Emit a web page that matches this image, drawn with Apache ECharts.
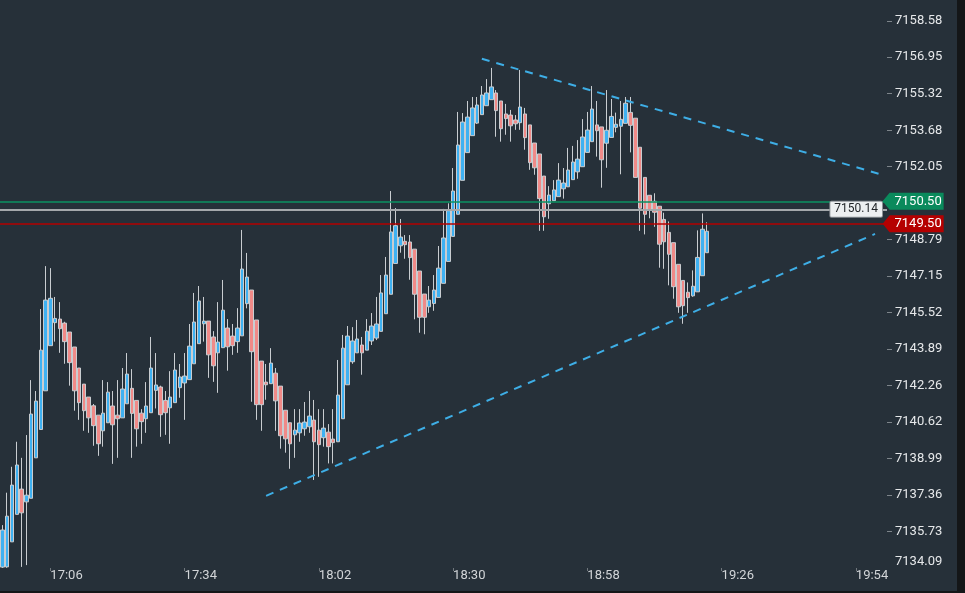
<!DOCTYPE html>
<html><head><meta charset="utf-8">
<script src="https://cdn.jsdelivr.net/npm/echarts@6/dist/echarts.min.js"></script>
<style>
html,body{margin:0;padding:0;background:#141618;width:965px;height:593px;overflow:hidden}
#c{width:957px;height:591px;background:#263039}
</style></head>
<body><div id="c"></div>
<script>
// minute categories 16:56 .. 20:00
const startTime = '16:56';
const categoryCount = 185;
const times = [];
(function(){ const p = startTime.split(':').map(Number); let m = p[0]*60+p[1];
  for (let i=0;i<categoryCount;i++){ const t=m+i; times.push(String(Math.floor(t/60)).padStart(2,'0')+':'+String(t%60).padStart(2,'0')); } })();

const xLabelFirst = '17:06';
const xLabelStep = 28;

const yLabels = [7158.58,7156.95,7155.32,7153.68,7152.05,7148.79,7147.15,7145.52,7143.89,7142.26,7140.62,7138.99,7137.36,7135.73,7134.09];
const yTicks  = [7158.58,7156.95,7155.32,7153.68,7152.05,7148.79,7147.15,7145.52,7143.89,7142.26,7140.62,7138.99,7137.36,7135.73];

const open = [7134.13,7134.14,7135.26,7136.49,7137.62,7137.05,7137.21,7139.02,7140.29,7142.02,
7144.04,7145.07,7145.23,7145.05,7144.65,7143.98,7143.04,7142.32,7141.74,7141.35,
7140.93,7140.23,7140.59,7141.34,7140.93,7140.81,7141.44,7142.13,7141.59,7141.02,
7140.77,7141.04,7142.04,7142.19,7141.59,7141.26,7141.49,7142.16,7142.37,7142.52,
7143.23,7144.13,7145.02,7145.14,7144.43,7143.72,7143.95,7144.83,7144.47,7144.22,
7144.48,7145.92,7146.53,7145.19,7143.35,7142.41,7142.34,7142.81,7142.23,7141.15,
7140.59,7140.05,7140.14,7140.32,7140.41,7140.71,7140.26,7139.92,7140.17,7139.86,
7139.74,7140.77,7142.29,7143.32,7143.72,7144.07,7143.84,7144.25,7144.38,7144.68,
7145.47,7146.34,7147.72,7148.51,7148.71,7148.68,7148.36,7147.38,7146.35,7145.78,
7145.93,7146.20,7146.83,7147.81,7148.93,7149.92,7151.44,7152.68,7153.44,7154.00,
7154.38,7154.78,7155.05,7155.35,7154.99,7154.41,7154.36,7154.14,7154.02,7154.41,
7153.92,7153.11,7152.62,7151.63,7150.39,7150.53,7150.71,7151.06,7151.15,7151.47,
7151.82,7152.05,7152.69,7153.17,7153.92,7153.83,7153.10,7153.36,7153.81,7153.86,
7153.99,7154.48,7154.22,7152.92,7151.57,7150.77,7150.50,7150.28,7149.69,7149.11,
7148.65,7147.68,7146.96,7146.43,7146.27,7146.45,7147.17,7148.20];

const close = [7135.79,7136.41,7137.80,7138.70,7136.56,7137.35,7140.98,7141.56,7143.84,7146.08,
7146.16,7145.26,7144.80,7144.22,7143.28,7142.02,7141.49,7141.13,7140.81,7140.46,
7139.65,7141.02,7141.96,7140.50,7140.77,7142.10,7142.77,7141.01,7140.32,7140.64,
7141.34,7143.04,7142.28,7140.95,7141.04,7141.74,7142.95,7142.64,7142.68,7144.02,
7145.10,7146.04,7145.14,7143.63,7143.14,7144.20,7145.63,7143.99,7144.04,7144.83,
7147.47,7147.11,7143.77,7141.40,7141.40,7142.29,7143.26,7141.57,7140.01,7139.87,
7139.65,7140.26,7140.58,7140.62,7140.89,7139.74,7139.61,7140.35,7139.52,7139.70,
7141.83,7143.93,7144.47,7144.25,7144.34,7143.72,7144.69,7144.92,7145.01,7146.40,
7147.20,7149.13,7149.41,7148.90,7148.56,7147.98,7146.34,7145.31,7145.31,7146.08,
7146.53,7147.51,7148.86,7150.08,7150.96,7153.02,7154.05,7154.27,7154.68,7154.81,
7155.26,7155.35,7155.62,7154.56,7153.75,7154.20,7153.88,7153.97,7154.72,7153.35,
7152.23,7152.00,7150.62,7149.81,7150.78,7151.01,7151.45,7151.32,7151.90,7152.26,
7152.39,7153.38,7153.69,7154.63,7153.66,7152.36,7153.68,7154.30,7153.95,7154.17,
7154.89,7153.90,7151.57,7150.19,7149.92,7150.12,7150.01,7148.58,7148.69,7148.13,
7146.68,7145.78,7145.83,7146.19,7146.70,7147.99,7149.25,7149.16];

const low = [7134.09,7134.10,7135.26,7136.49,7134.14,7134.22,7137.21,7139.02,7140.29,7142.02,
7144.04,7144.22,7143.72,7143.23,7142.25,7141.13,7140.72,7140.23,7140.14,7139.56,
7139.11,7139.52,7140.59,7138.75,7139.02,7140.81,7141.44,7139.02,7139.52,7139.65,
7140.14,7141.04,7141.23,7139.96,7140.05,7139.65,7141.49,7141.71,7140.72,7142.52,
7143.23,7144.13,7144.22,7142.60,7142.42,7141.93,7143.95,7142.92,7143.63,7143.72,
7144.48,7145.71,7141.53,7140.72,7140.23,7141.62,7142.34,7140.23,7139.43,7139.25,
7138.53,7139.02,7139.74,7140.01,7140.14,7138.03,7138.17,7139.52,7138.77,7138.77,
7139.74,7140.77,7142.29,7143.23,7143.72,7142.74,7143.84,7144.07,7144.29,7144.68,
7145.47,7146.34,7147.72,7148.20,7147.93,7146.99,7145.22,7144.62,7144.55,7145.51,
7145.60,7146.20,7146.83,7147.81,7148.93,7149.92,7151.44,7152.68,7153.44,7153.96,
7154.38,7154.78,7155.05,7153.39,7153.17,7153.48,7153.17,7153.70,7153.70,7152.81,
7151.91,7151.69,7149.18,7149.18,7149.72,7150.53,7150.71,7150.62,7151.15,7151.47,
7151.51,7152.05,7152.69,7153.17,7152.50,7151.11,7152.00,7153.36,7153.59,7151.71,
7153.99,7152.69,7151.57,7149.18,7149.02,7149.74,7149.36,7147.53,7147.48,7146.74,
7146.14,7145.51,7145.02,7145.51,7146.23,7146.45,7147.17,7148.20];

const high = [7136.01,7137.46,7138.62,7139.74,7139.02,7140.04,7142.50,7142.01,7145.68,7147.60,
7147.51,7146.22,7145.99,7145.11,7144.65,7143.98,7143.04,7142.32,7141.74,7141.43,
7140.93,7142.50,7142.41,7142.01,7142.50,7143.04,7143.71,7142.99,7141.59,7141.20,
7142.41,7144.43,7143.71,7142.25,7142.01,7142.90,7143.71,7143.22,7143.71,7145.01,
7146.40,7146.71,7146.22,7145.14,7144.69,7145.99,7146.98,7145.23,7145.01,7145.72,
7149.22,7148.19,7146.53,7145.19,7143.35,7143.22,7143.93,7143.04,7142.23,7141.15,
7140.59,7141.20,7141.20,7141.52,7142.01,7141.61,7141.20,7141.20,7140.53,7141.20,
7143.40,7144.52,7144.92,7144.87,7145.19,7144.43,7145.23,7145.50,7146.22,7147.20,
7148.01,7150.96,7150.20,7149.71,7148.99,7148.99,7148.36,7147.38,7146.35,7146.71,
7147.20,7148.50,7150.16,7150.41,7151.99,7154.50,7154.45,7154.99,7155.17,7155.17,
7155.66,7155.97,7156.47,7155.48,7154.99,7154.86,7154.59,7154.36,7156.38,7154.68,
7153.92,7153.11,7152.62,7151.63,7151.18,7151.45,7152.21,7151.99,7152.89,7152.98,
7153.24,7154.18,7154.50,7155.66,7154.99,7153.83,7155.48,7155.08,7154.47,7154.99,
7155.17,7155.17,7154.22,7152.92,7151.57,7150.77,7150.86,7150.28,7149.99,7149.60,
7148.65,7147.68,7146.96,7146.87,7147.41,7149.20,7149.96,7149.56];

const levelGreen = 7150.50;
const levelLast = 7150.14;
const levelRed = 7149.50;
const trendUpper = [['18:36', 7156.88], ['19:59', 7151.72]];
const trendLower = [['17:51', 7137.32], ['19:58', 7149.04]];
const tagCategory = '20:00';

const candles = open.map((o, i) => [o, close[i], low[i], high[i]]);
const firstIdx = times.indexOf(xLabelFirst);
const showX = (idx) => idx >= firstIdx && (idx - firstIdx) % xLabelStep === 0;
const font = 'Roboto';
const trend = () => ({color: '#3eaee6', width: 2, type: [8, 7]});

const chart = echarts.init(document.getElementById('c'));
chart.setOption({
  backgroundColor: '#263039',
  animation: false,
  grid: {left: -3, right: 70, top: 0, bottom: 23, containLabel: false},
  xAxis: {
    type: 'category', data: times, boundaryGap: true,
    axisLine: {show: false},
    axisTick: {show: true, alignWithLabel: true, interval: showX, length: 3, lineStyle: {color: '#6f767c'}},
    axisLabel: {interval: showX, align: 'left', color: '#d2d5d8', fontSize: 13, fontFamily: font, margin: 1},
    splitLine: {show: false}
  },
  yAxis: {
    type: 'value', position: 'right', min: 7134.09, max: 7159.51, scale: true,
    splitLine: {show: false},
    axisLine: {show: false},
    axisTick: {show: true, length: 5, customValues: yTicks, lineStyle: {color: '#7d848a'}},
    axisLabel: {
      customValues: yLabels, margin: 8, color: '#e6e8ea', fontSize: 13, fontFamily: font,
      formatter: v => Math.abs(v - yLabels[yLabels.length - 1]) < 1e-6 ? '{b|' + v.toFixed(2) + '}' : v.toFixed(2),
      rich: {b: {padding: [0, 0, 12, 0], color: '#e6e8ea', fontSize: 13, fontFamily: font}}
    }
  },
  series: [{
    type: 'candlestick', data: candles, barWidth: 4, clip: false,
    itemStyle: {color: '#3eb1f2', color0: '#f08a88', borderColor: '#c9cdd1', borderColor0: '#c9cdd1', borderColorDoji: '#c9cdd1', borderWidth: 1},
    markLine: {
      silent: true, symbol: ['none', 'none'], animation: false,
      label: {show: false},
      data: [
        {yAxis: levelLast, lineStyle: {color: '#a4a8ab', width: 2, type: 'solid'},
          label: {show: true, position: 'insideEnd', distance: 5, formatter: levelLast.toFixed(2),
            backgroundColor: '#eceff1', borderColor: '#8c9196', borderWidth: 1, borderRadius: 1,
            padding: [2, 4, 1, 4], color: '#1e2226', fontSize: 12, fontFamily: font}},
        {yAxis: levelGreen, lineStyle: {color: '#0b9262', width: 1.5, type: 'solid', opacity: 1}},
        {yAxis: levelRed, lineStyle: {color: '#b40000', width: 1.5, type: 'solid'}},
        [{coord: trendUpper[0], lineStyle: trend()}, {coord: trendUpper[1], lineStyle: trend()}],
        [{coord: trendLower[0], lineStyle: trend()}, {coord: trendLower[1], lineStyle: trend()}]
      ]
    },
    markPoint: {
      silent: true, animation: false,
      symbol: 'path://M0,8.5L7,0L61,0L61,17L7,17Z', symbolSize: [61, 17], symbolOffset: [28.5, 0],
      label: {show: true, position: 'inside', color: '#ffffff', fontSize: 13, fontFamily: font, offset: [5, 0]},
      data: [
        {coord: [tagCategory, levelGreen], itemStyle: {color: '#0a8a5c'}, label: {formatter: levelGreen.toFixed(2)}},
        {coord: [tagCategory, levelRed], itemStyle: {color: '#b50000'}, label: {formatter: levelRed.toFixed(2)}}
      ]
    }
  }]
});
</script></body></html>
